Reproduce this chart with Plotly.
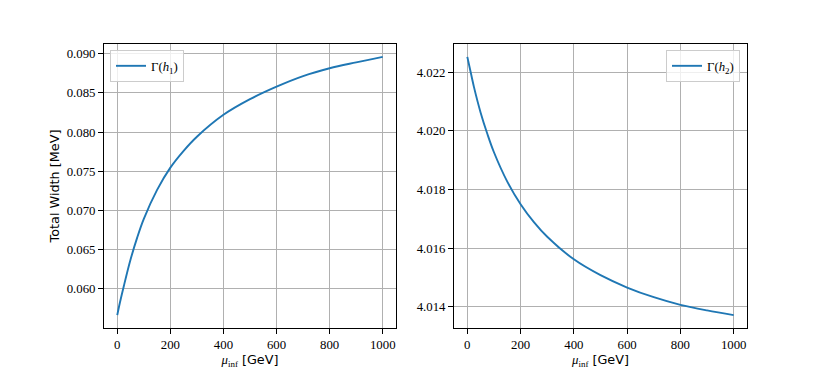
import plotly.graph_objects as go

# ---- data ----
mu_inf = [0, 10, 25, 50, 75, 100, 150, 200, 250, 300, 400, 500, 600, 700, 800, 900, 1000]
gamma_h1 = [0.0566, 0.0582, 0.06036, 0.0637, 0.0665, 0.0689, 0.0726, 0.07545, 0.0776,
            0.0794, 0.0822, 0.0842, 0.0858, 0.08715, 0.08815, 0.0889, 0.0896]
gamma_h2 = [4.02252, 4.02211, 4.02149, 4.02062, 4.01990, 4.01927, 4.01827, 4.01750,
            4.01689, 4.01639, 4.01562, 4.01508, 4.01466, 4.01433, 4.01407, 4.01388, 4.01372]
xticks = [0, 200, 400, 600, 800, 1000]
yticks_h1 = [0.060, 0.065, 0.070, 0.075, 0.080, 0.085, 0.090]
yticks_h2 = [4.014, 4.016, 4.018, 4.020, 4.022]

W, H = 830, 369
FS = 12.8
SERIF = "Liberation Serif"
SANS = "DejaVu Sans"
BLUE = "#1f77b4"

# plot-area box in pixels
L, R, T, B = 104, 747, 44, 328
PW = R - L


def padded(vals):
    lo, hi = min(vals), max(vals)
    p = 0.05 * (hi - lo)
    return [lo - p, hi + p]


fig = go.Figure()
fig.add_trace(go.Scatter(x=mu_inf, y=gamma_h1, mode="lines", line=dict(color=BLUE, width=1.9, shape="spline"),
                         name="Γ(<i>h</i><sub>1</sub>)", xaxis="x", yaxis="y", legend="legend"))
fig.add_trace(go.Scatter(x=mu_inf, y=gamma_h2, mode="lines", line=dict(color=BLUE, width=1.9, shape="spline"),
                         name="Γ(<i>h</i><sub>2</sub>)", xaxis="x2", yaxis="y2", legend="legend2"))

axis_common = dict(showline=True, mirror=True, linecolor="black", linewidth=1,
                   ticks="outside", ticklen=5, tickwidth=1, tickcolor="black",
                   showgrid=True, gridcolor="#b0b0b0", gridwidth=1, zeroline=False,
                   automargin=False,
                   tickfont=dict(family=SERIF, size=FS, color="black"))

xtitle = ("<span style=\"font-family:Liberation Serif\"><i>μ</i><sub>inf</sub></span> [GeV]")
title_font = dict(family=SANS, size=FS, color="black")

fig.update_layout(
    width=W, height=H,
    margin=dict(l=L, r=W - R, t=T, b=H - B, autoexpand=False),
    paper_bgcolor="white", plot_bgcolor="white",
    xaxis=dict(domain=[0, (396 - L) / PW], range=padded(mu_inf), tickvals=xticks, anchor="y",
               title=dict(text=xtitle, font=title_font, standoff=2), **axis_common),
    yaxis=dict(domain=[0, 1], range=padded(gamma_h1), tickvals=yticks_h1, tickformat=".3f", anchor="x",
               title=dict(text="Total Width [MeV]", font=title_font, standoff=4), **axis_common),
    xaxis2=dict(domain=[(454 - L) / PW, 1], range=padded(mu_inf), tickvals=xticks, anchor="y2",
                title=dict(text=xtitle, font=title_font, standoff=2), **axis_common),
    yaxis2=dict(domain=[0, 1], range=padded(gamma_h2), tickvals=yticks_h2, tickformat=".3f", anchor="x2",
                **axis_common),
    legend=dict(x=(110 - L) / PW, y=1 - 6 / (B - T), xanchor="left", yanchor="top",
                bgcolor="rgba(255,255,255,0.8)", bordercolor="#cccccc", borderwidth=1,
                font=dict(family=SERIF, size=FS, color="black"), itemwidth=30),
    legend2=dict(x=(740 - L) / PW, y=1 - 6 / (B - T), xanchor="right", yanchor="top",
                 bgcolor="rgba(255,255,255,0.8)", bordercolor="#cccccc", borderwidth=1,
                 font=dict(family=SERIF, size=FS, color="black"), itemwidth=30),
    showlegend=True,
)

fig.write_html("out.html",
               config={"displayModeBar": False},
               post_script="document.body.style.margin='0';document.body.style.overflow='hidden';")
